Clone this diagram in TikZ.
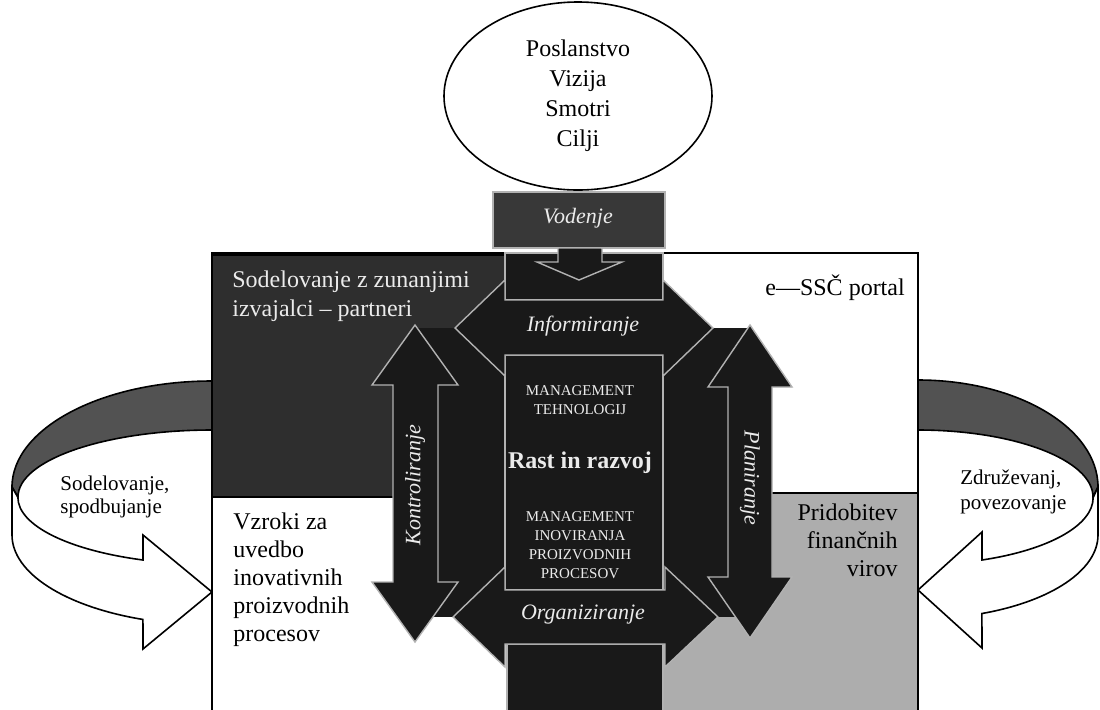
\documentclass[tikz,border=0pt]{standalone}
\usepackage{fontspec}
\setmainfont{Liberation Serif}
\usetikzlibrary{shapes.geometric}

\tikzset{
  dark/.style={fill=black!82, draw=black, line width=0.8pt},
  arw/.style={fill=black!90, draw=black!30, line width=0.7pt},
  band/.style={fill=black!68, draw=black, line width=0.8pt},
  ribbon/.style={fill=white, draw=black, line width=0.8pt},
  fn/.style={text=black!8, font=\itshape\fontsize{11}{13}\selectfont},
  mgmt/.style={text=black!8, align=center, font=\fontsize{7.5}{9.5}\selectfont},
  txt/.style={align=left, inner sep=0pt, font=\fontsize{12}{14}\selectfont},
}

\begin{document}
\begin{tikzpicture}[x=0.5pt, y=-0.5pt, line join=miter]
\useasboundingbox (0,0) rectangle (1100,709);

% curved arrows at both sides
\filldraw[band] (212,381) arc[start angle=270, end angle=180, x radius=200, y radius=106]
  -- (18,497) arc[start angle=180, end angle=270, x radius=194, y radius=67] -- cycle;
\filldraw[ribbon] (12,487) -- (12,535)
  arc[start angle=180, end angle=110.2, x radius=200, y radius=90]
  -- (143,649) -- (212,592) -- (143,535) -- (143,560)
  arc[start angle=110.8, end angle=180, x radius=194, y radius=67] -- cycle;
\filldraw[band] (918,380) arc[start angle=270, end angle=360, x radius=180, y radius=107]
  -- (1093,497) arc[start angle=0, end angle=-90, x radius=175, y radius=67] -- cycle;
\filldraw[ribbon] (1098,487) -- (1098,535)
  arc[start angle=0, end angle=69.2, x radius=180, y radius=84]
  -- (982,648) -- (918,590) -- (982,532) -- (982,560)
  arc[start angle=68.6, end angle=0, x radius=175, y radius=67] -- cycle;
\node[align=left, inner sep=0pt, anchor=west, font=\fontsize{10.5}{11.5}\selectfont] (coop) at (60,497) {Sodelovanje,\\spodbujanje};
\node[align=left, inner sep=0pt, anchor=west, font=\fontsize{10.5}{12.5}\selectfont] (merge) at (960,492) {Združevanj,\\povezovanje};

% frame and quadrants
\draw[fill=white, line width=0.8pt] (212,253) rectangle (918,720);
\filldraw[dark] (212,255) rectangle (580,497);
\filldraw[fill=black!32, draw=black, line width=0.8pt] (580,493) rectangle (918,720);

% centre
\fill[black!90] (415,328) rectangle (750,617);
\filldraw[arw] (505,253) rectangle (663,300);
\filldraw[arw] (505,355) rectangle (663,590);
\filldraw[arw] (507,644) rectangle (663,720);

\filldraw[arw] (455,328) -- (505,280) -- (505,300) -- (663,300) -- (663,280) -- (713,328)
  -- (663,376) -- (663,355) -- (505,355) -- (505,376) -- cycle;
\filldraw[arw] (453,617) -- (505,567) -- (505,590) -- (665,590) -- (665,567) -- (718,617)
  -- (665,667) -- (665,644) -- (505,644) -- (505,667) -- cycle;
\filldraw[arw] (415,325) -- (458,385) -- (438,385) -- (438,582) -- (458,582) -- (415,642)
  -- (372,582) -- (393,582) -- (393,385) -- (372,385) -- cycle;
\filldraw[arw] (750,325) -- (792,387) -- (772,387) -- (772,577) -- (792,577) -- (750,638)
  -- (708,577) -- (728,577) -- (728,387) -- (708,387) -- cycle;

% top
\node[ellipse, draw, line width=0.8pt, minimum width=134pt, minimum height=94pt, align=center,
  font=\fontsize{12}{15}\selectfont] (mission) at (578,96) {Poslanstvo\\Vizija\\Smotri\\Cilji};
\filldraw[arw, fill=black!78] (493,192) rectangle (665,248);
\filldraw[arw] (558,248) -- (602,248) -- (602,262) -- (622,262) -- (579,280) -- (537,262)
  -- (558,262) -- cycle;

\node[fn] (lead) at (578,218) {Vodenje};
\node[fn] (inform) at (583,326) {Informiranje};
\node[fn] (organise) at (583,615) {Organiziranje};
\node[fn, rotate=90] (control) at (415,485) {Kontroliranje};
\node[fn, rotate=-90] (plan) at (750,478) {Planiranje};
\node[mgmt] (tech) at (580,400) {MANAGEMENT\\TEHNOLOGIJ};
\node[text=black!8, font=\bfseries\fontsize{12}{14}\selectfont] (growth) at (580,463) {Rast in razvoj};
\node[mgmt] (innov) at (580,545) {MANAGEMENT\\INOVIRANJA\\PROIZVODNIH\\PROCESOV};

\node[txt, text=black!8, anchor=north west, font=\fontsize{12}{14.5}\selectfont] (partners) at (232,270) {Sodelovanje z zunanjimi\\izvajalci -- partneri};
\node[txt, anchor=west] (portal) at (765,288) {e---SSČ portal};
\node[txt, anchor=north west] (causes) at (233,512) {Vzroki za\\uvedbo\\inovativnih\\proizvodnih\\procesov};
\node[txt, anchor=north east, align=right] (funds) at (898,503) {Pridobitev\\finančnih\\virov};
\end{tikzpicture}
\end{document}
